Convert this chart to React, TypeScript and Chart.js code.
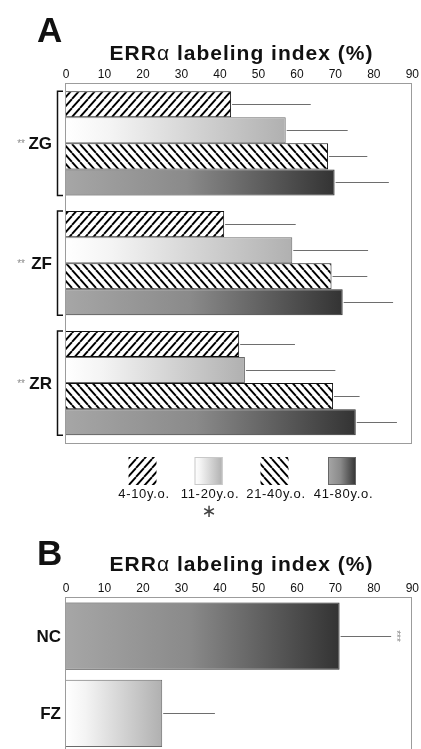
import React, { useEffect, useRef } from 'react';
import { Chart, registerables } from 'chart.js';

Chart.register(...registerables);

// ---------- data ----------
const regions = ['ZG', 'ZF', 'ZR'];
const regionMarks = ['**', '**', '**'];
const ageGroups = ['4-10y.o.', '11-20y.o.', '21-40y.o.', '41-80y.o.'];
const mean4to10 = [42.9, 41.1, 45.0];
const mean11to20 = [57.1, 58.8, 46.5];
const mean21to40 = [68.1, 69.0, 69.4];
const mean41to80 = [69.8, 71.9, 75.3];
const sd4to10 = [20.7, 18.6, 14.5];
const sd11to20 = [16.1, 19.7, 23.5];
const sd21to40 = [10.2, 9.3, 6.9];
const sd41to80 = [14.1, 13.1, 10.7];
const legendMark = ['', '*', '', ''];

const groupsB = ['NC', 'FZ'];
const meanB = [71.1, 25.0];
const sdB = [13.4, 13.7];
const marksB = ['***', ''];

const axisTitleBold = 'ERR';
const axisTitleGreek = 'α';
const axisTitleRest = ' labeling index (%)';
const xMin = 0;
const xMax = 90;
const xStep = 10;

// ---------- styling helpers ----------
const SANS = '"Liberation Sans", Arial, Helvetica, sans-serif';

function makeHatch(dir: number): CanvasPattern | string {
  const W = 8, H = 9;
  const c = document.createElement('canvas');
  c.width = W; c.height = H;
  const g = c.getContext('2d');
  if (!g) return '#fff';
  g.fillStyle = '#ffffff';
  g.fillRect(0, 0, W, H);
  g.strokeStyle = '#000000';
  g.lineWidth = 1.9;
  g.beginPath();
  for (let k = -1; k <= 1; k++) {
    if (dir > 0) {
      g.moveTo(k * W, H); g.lineTo(k * W + W, 0);
    } else {
      g.moveTo(k * W, 0); g.lineTo(k * W + W, H);
    }
  }
  g.stroke();
  const p = g.createPattern(c, 'repeat');
  return p || '#fff';
}

const LIGHT_STOPS: [number, string][] = [[0, '#ffffff'], [0.2, '#f4f4f4'], [1, '#b0b0b0']];
const DARK_STOPS: [number, string][] = [[0, '#a6a6a6'], [0.45, '#8a8a8a'], [1, '#333333']];

function grad(ctx: CanvasRenderingContext2D, x0: number, x1: number, stops: [number, string][]) {
  if (!isFinite(x0) || !isFinite(x1)) return stops[stops.length - 1][1];
  const g = ctx.createLinearGradient(x0, 0, Math.max(x1, x0 + 1), 0);
  stops.forEach(([o, c]) => g.addColorStop(o, c));
  return g;
}

function fillStyleFor(kind: string, ctx: CanvasRenderingContext2D, x0: number, x1: number): any {
  if (kind === 'hatchF') return makeHatch(1);
  if (kind === 'hatchB') return makeHatch(-1);
  if (kind === 'light') return grad(ctx, x0, x1, LIGHT_STOPS);
  return grad(ctx, x0, x1, DARK_STOPS);
}

function barBg(kindOf: (i: number) => string) {
  return (c: any) => {
    const chart = c.chart;
    const xs = chart.scales && chart.scales.x;
    const k = kindOf(c.dataIndex);
    if (!xs || typeof c.raw !== 'number') return k.startsWith('hatch') ? '#fff' : '#999';
    return fillStyleFor(k, chart.ctx, xs.getPixelForValue(0), xs.getPixelForValue(c.raw));
  };
}

function drawTitle(ctx: CanvasRenderingContext2D, cx: number, baseline: number) {
  ctx.save();
  (ctx as any).letterSpacing = '1px';
  const bold = `bold 21px ${SANS}`;
  const norm = `21px ${SANS}`;
  ctx.font = bold;
  const w1 = ctx.measureText(axisTitleBold).width;
  const w3 = ctx.measureText(axisTitleRest).width;
  ctx.font = norm;
  const w2 = ctx.measureText(axisTitleGreek).width;
  let x = cx - (w1 + w2 + w3) / 2;
  ctx.fillStyle = '#111';
  ctx.textBaseline = 'alphabetic';
  ctx.textAlign = 'left';
  ctx.font = bold; ctx.fillText(axisTitleBold, x, baseline); x += w1;
  ctx.font = norm; ctx.fillText(axisTitleGreek, x, baseline); x += w2;
  ctx.font = bold; ctx.fillText(axisTitleRest, x, baseline);
  ctx.restore();
}

function drawFrame(chart: any) {
  const { ctx, chartArea: a } = chart;
  ctx.save();
  ctx.strokeStyle = '#9c9c9c';
  ctx.lineWidth = 1;
  ctx.strokeRect(Math.round(a.left) - 0.5, Math.round(a.top) + 0.5, Math.round(a.right - a.left), Math.round(a.bottom - a.top));
  ctx.restore();
}

function drawErrors(chart: any) {
  const { ctx } = chart;
  const xs = chart.scales.x;
  ctx.save();
  ctx.strokeStyle = '#6e6e6e';
  ctx.lineWidth = 1;
  chart.data.datasets.forEach((d: any, di: number) => {
    const meta = chart.getDatasetMeta(di);
    meta.data.forEach((el: any, i: number) => {
      const v = d.data[i];
      const s = d.sd[i];
      const x0 = xs.getPixelForValue(v);
      const x1 = xs.getPixelForValue(v + s);
      const y = Math.round(el.y) + 0.5;
      ctx.beginPath();
      ctx.moveTo(x0 + 1, y);
      ctx.lineTo(x1, y);
      ctx.stroke();
    });
  });
  ctx.restore();
}

const topPlugin = {
  id: 'topDecor',
  beforeDatasetsDraw(chart: any) {
    drawFrame(chart);
  },
  afterDatasetsDraw(chart: any) {
    drawErrors(chart);
  },
  afterDraw(chart: any) {
    const { ctx, chartArea: a } = chart;
    ctx.save();
    ctx.fillStyle = '#111';
    ctx.font = `bold 35px ${SANS}`;
    ctx.textAlign = 'left';
    ctx.textBaseline = 'alphabetic';
    ctx.fillText('A', 37, 42);
    ctx.restore();
    drawTitle(ctx, 241.5, 59.5);

    const n = regions.length;
    for (let i = 0; i < n; i++) {
      let top = Infinity, bot = -Infinity;
      chart.data.datasets.forEach((_d: any, di: number) => {
        const el: any = chart.getDatasetMeta(di).data[i];
        top = Math.min(top, el.y - el.height / 2);
        bot = Math.max(bot, el.y + el.height / 2);
      });
      const bx = a.left - 8.5;
      ctx.save();
      ctx.strokeStyle = '#111';
      ctx.lineWidth = 1.5;
      ctx.beginPath();
      ctx.moveTo(a.left - 3, top);
      ctx.lineTo(bx, top);
      ctx.lineTo(bx, bot);
      ctx.lineTo(a.left - 3, bot);
      ctx.stroke();
      const cy = (top + bot) / 2;
      ctx.fillStyle = '#111';
      ctx.font = `bold 17px ${SANS}`;
      ctx.textAlign = 'right';
      ctx.textBaseline = 'middle';
      ctx.fillText(regions[i], 52, cy + 1);
      ctx.fillStyle = '#8a8a8a';
      ctx.font = `10px ${SANS}`;
      ctx.fillText(regionMarks[i], 25, cy + 1);
      ctx.restore();
    }

    const centers = [142.5, 208.5, 274.5, 342];
    const kinds = chart.data.datasets.map((d: any) => d.kind);
    ctx.save();
    centers.forEach((cx, i) => {
      const x0 = cx - 14, y0 = 457, s = 28;
      ctx.fillStyle = fillStyleFor(kinds[i], ctx, x0, x0 + s);
      ctx.fillRect(x0, y0, s, s);
      if (!kinds[i].startsWith('hatch')) {
        ctx.strokeStyle = kinds[i] === 'light' ? '#c8c8c8' : '#666';
        ctx.lineWidth = 1;
        ctx.strokeRect(x0 + 0.5, y0 + 0.5, s - 1, s - 1);
      }
      ctx.fillStyle = '#111';
      (ctx as any).letterSpacing = '0.7px';
      ctx.font = `13px ${SANS}`;
      ctx.textAlign = 'center';
      ctx.textBaseline = 'middle';
      ctx.fillText(ageGroups[i], cx + 1.5, 494);
      (ctx as any).letterSpacing = '0px';
      if (legendMark[i]) {
        ctx.fillStyle = '#444';
        ctx.font = `18px "DejaVu Sans", sans-serif`;
        ctx.fillText('\u2217', cx + 0.5, 512);
      }
    });
    ctx.restore();
  },
};

const bottomPlugin = {
  id: 'bottomDecor',
  beforeDatasetsDraw(chart: any) {
    drawFrame(chart);
  },
  afterDatasetsDraw(chart: any) {
    drawErrors(chart);
  },
  afterDraw(chart: any) {
    const { ctx } = chart;
    const ys = chart.scales.y;
    const xs = chart.scales.x;
    ctx.save();
    ctx.fillStyle = '#111';
    ctx.font = `bold 35px ${SANS}`;
    ctx.textAlign = 'left';
    ctx.textBaseline = 'alphabetic';
    ctx.fillText('B', 37, 35);
    ctx.restore();
    drawTitle(ctx, 241.5, 41);
    const ds: any = chart.data.datasets[0];
    groupsB.forEach((g, i) => {
      const cy = ys.getPixelForValue(i);
      ctx.save();
      ctx.fillStyle = '#111';
      ctx.font = `bold 17px ${SANS}`;
      ctx.textAlign = 'right';
      ctx.textBaseline = 'middle';
      ctx.fillText(g, 61, cy + 1);
      if (marksB[i]) {
        const xe = xs.getPixelForValue(ds.data[i] + ds.sd[i]);
        ctx.translate(xe + 6.5, cy);
        ctx.rotate(Math.PI / 2);
        ctx.fillStyle = '#8a8a8a';
        ctx.font = `10px ${SANS}`;
        ctx.textAlign = 'center';
        ctx.fillText(marksB[i], 0, 2);
      }
      ctx.restore();
    });
  },
};

function xScale() {
  return {
    position: 'top' as const,
    min: xMin,
    max: xMax,
    ticks: {
      stepSize: xStep,
      padding: 2,
      color: '#111',
      font: { family: SANS, size: 12 },
    },
    grid: { display: false, drawTicks: false },
    border: { display: false },
  };
}

export default function App() {
  const topRef = useRef<HTMLCanvasElement | null>(null);
  const botRef = useRef<HTMLCanvasElement | null>(null);

  useEffect(() => {
    const kinds = ['hatchF', 'light', 'hatchB', 'dark'];
    const means = [mean4to10, mean11to20, mean21to40, mean41to80];
    const sds = [sd4to10, sd11to20, sd21to40, sd41to80];
    const borders = ['#111', '#6a6a6a', '#111', '#2a2a2a'];
    const top = new Chart(topRef.current as HTMLCanvasElement, {
      type: 'bar',
      data: {
        labels: regions,
        datasets: ageGroups.map((label, k) => ({
          label,
          data: means[k],
          sd: sds[k],
          kind: kinds[k],
          backgroundColor: barBg(() => kinds[k]),
          borderColor: borders[k],
          borderWidth: 1,
          barPercentage: 1,
          categoryPercentage: 0.87,
        })) as any,
      },
      options: {
        indexAxis: 'y',
        responsive: false,
        maintainAspectRatio: false,
        animation: false,
        layout: { padding: { left: 66, right: 8, top: 65, bottom: 87 } },
        scales: {
          x: xScale() as any,
          y: { display: false, offset: true },
        },
        plugins: { legend: { display: false }, tooltip: { enabled: false } },
      },
      plugins: [topPlugin],
    });

    const kindsB = ['dark', 'light'];
    const bottom = new Chart(botRef.current as HTMLCanvasElement, {
      type: 'bar',
      data: {
        labels: groupsB,
        datasets: [
          {
            label: 'B',
            data: meanB,
            sd: sdB,
            backgroundColor: barBg((i) => kindsB[i]),
            borderColor: ['#2a2a2a', '#6a6a6a'],
            borderWidth: 1,
            barPercentage: 1,
            categoryPercentage: 0.87,
          } as any,
        ],
      },
      options: {
        indexAxis: 'y',
        responsive: false,
        maintainAspectRatio: false,
        animation: false,
        layout: { padding: { left: 66, right: 8, top: 49, bottom: 48 } },
        scales: {
          x: xScale() as any,
          y: { display: false, offset: true },
        },
        plugins: { legend: { display: false }, tooltip: { enabled: false } },
      },
      plugins: [bottomPlugin],
    });

    return () => {
      top.destroy();
      bottom.destroy();
    };
  }, []);

  return (
    <div style={{ position: 'absolute', left: 0, top: 0, width: 421, height: 749, overflow: 'hidden', background: '#fff' }}>
      <canvas ref={topRef} width={421} height={530} style={{ position: 'absolute', left: 0, top: 0, width: 421, height: 530 }} />
      <canvas ref={botRef} width={421} height={270} style={{ position: 'absolute', left: 0, top: 530, width: 421, height: 270 }} />
    </div>
  );
}
